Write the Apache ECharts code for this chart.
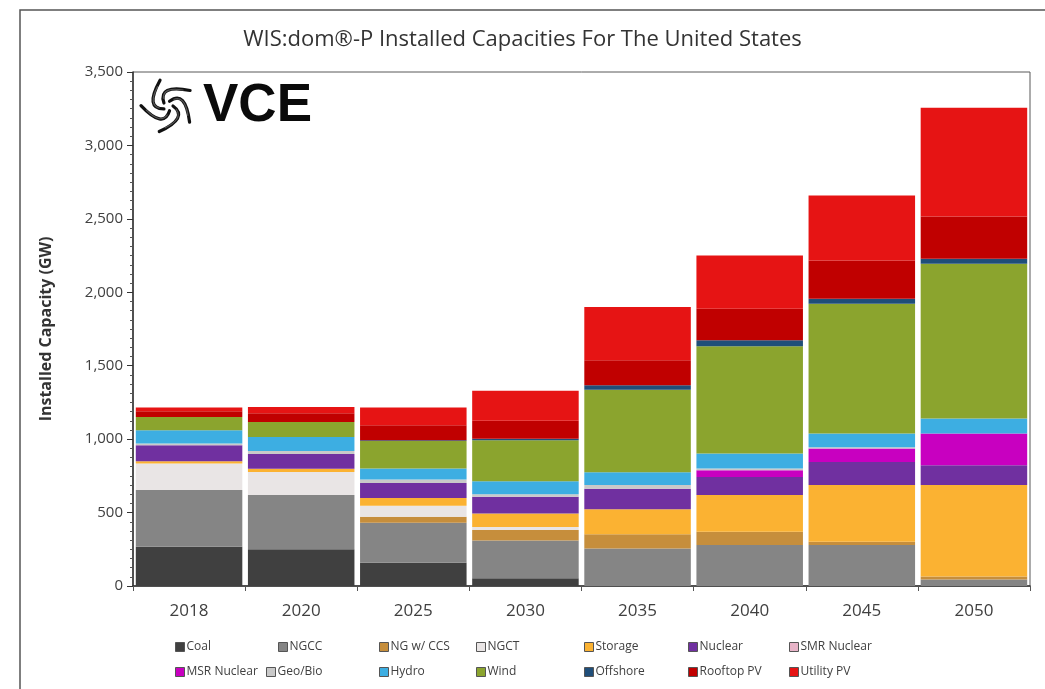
<!DOCTYPE html>
<html>
<head>
<meta charset="utf-8">
<script src="https://cdn.jsdelivr.net/npm/echarts@6/dist/echarts.min.js"></script>
<style>html,body{margin:0;padding:0;background:#fff}#c{width:1045px;height:689px}</style>
</head>
<body>
<div id="c"></div>
<script>
var categories = ['2018','2020','2025','2030','2035','2040','2045','2050'];
var coal      = [267, 250, 158,  52,   0,   0,   0,    0];
var ngcc      = [386, 369, 272, 257, 256, 279, 279,   45];
var ngCcs     = [  0,   0,  41,  72,  96,  90,  22,   20];
var ngct      = [181, 158,  76,  20,   0,   0,   0,    0];
var storage   = [ 16,  22,  53,  93, 170, 250, 386,  622];
var nuclear   = [109, 100, 102, 113, 140, 124, 158,  136];
var smrNuclear= [  0,   0,   0,   0,   0,   0,   0,    0];
var msrNuclear= [  0,   0,   0,   0,   0,  45,  91,  215];
var geoBio    = [ 11,  21,  24,  17,  25,  12,   8,    0];
var hydro     = [ 91,  95,  74,  90,  88, 102,  94,  102];
var wind      = [ 90, 102, 188, 279, 562, 730, 884, 1054];
var offshore  = [  0,   0,   5,  10,  30,  41,  34,   34];
var rooftopPV = [ 39,  59, 102, 122, 170, 215, 261,  288];
var utilityPV = [ 25,  43, 120, 204, 362, 363, 442,  741];
var yTicks = [0, 500, 1000, 1500, 2000, 2500, 3000, 3500];

var seriesDefs = [
  ['Coal', coal, '#404040'],
  ['NGCC', ngcc, '#858585'],
  ['NG w/ CCS', ngCcs, '#c68e3c'],
  ['NGCT', ngct, '#e9e5e5'],
  ['Storage', storage, '#fbb232'],
  ['Nuclear', nuclear, '#7030a0'],
  ['SMR Nuclear', smrNuclear, '#e8b4c8'],
  ['MSR Nuclear', msrNuclear, '#c800c0'],
  ['Geo/Bio', geoBio, '#c9c9c9'],
  ['Hydro', hydro, '#3daee2'],
  ['Wind', wind, '#8ba42e'],
  ['Offshore', offshore, '#1f4e79'],
  ['Rooftop PV', rooftopPV, '#c00000'],
  ['Utility PV', utilityPV, '#e61414']
];

var FONT = '"Open Sans"';
var legendPos = [
  [175,641],[278,641],[379,641],[476,641],[584,641],[688,641],[789,641],
  [175,666],[266,666],[379,666],[476,666],[584,666],[688,666],[789,666]
];
var legends = seriesDefs.map(function(d, i){
  return {
    data: [d[0]], left: legendPos[i][0], top: legendPos[i][1],
    itemWidth: 9, itemHeight: 9, itemGap: 0, padding: 0, icon: 'rect',
    itemStyle: {borderColor: '#555', borderWidth: 1},
    textStyle: {fontFamily: FONT, fontSize: 12, color: '#404040', padding: [0,0,0,-3]}
  };
});

var series = seriesDefs.map(function(d){
  return {
    name: d[0], type: 'bar', stack: 'total', data: d[1],
    barCategoryGap: '5%',
    itemStyle: {color: d[2]},
    emphasis: {disabled: true}
  };
});

// swirl logo arms
var swirl = [];
var cx = 168, cy = 106;
function pt(r, ang){ return [cx + r*Math.cos(ang), cy + r*Math.sin(ang)]; }
for (var k = 0; k < 5; k++) {
  var a = k * 72 * Math.PI / 180;
  var p1 = pt(5, a), p2 = pt(27, a + 1.9), c1 = pt(24, a + 0.5);
  swirl.push({type: 'bezierCurve', shape: {x1:p1[0], y1:p1[1], x2:p2[0], y2:p2[1], cpx1:c1[0], cpy1:c1[1]},
    style: {stroke: '#111', lineWidth: 3.2, fill: null, lineCap: 'round'}});
  var q1 = pt(9, a + 0.4), q2 = pt(22, a + 1.7), c2 = pt(20, a + 0.7);
  swirl.push({type: 'bezierCurve', shape: {x1:q1[0], y1:q1[1], x2:q2[0], y2:q2[1], cpx1:c2[0], cpy1:c2[1]},
    style: {stroke: '#555', lineWidth: 1.2, fill: null, lineCap: 'round'}});
}

var chart = echarts.init(document.getElementById('c'), null, {renderer: 'canvas'});
chart.setOption({
  animation: false,
  backgroundColor: '#fff',
  title: {
    text: 'WIS:dom®-P Installed Capacities For The United States',
    left: 'center', top: 24,
    textStyle: {fontFamily: FONT, fontSize: 22, fontWeight: 'normal', color: '#333'}
  },
  legend: legends,
  grid: {left: 133, right: 15, top: 72, bottom: 103, show: true, borderColor: '#595959', borderWidth: 1, containLabel: false},
  xAxis: {
    type: 'category', data: categories,
    axisLine: {lineStyle: {color: '#333', width: 1.5}},
    axisTick: {show: true, length: 5, lineStyle: {color: '#555'}},
    axisLabel: {fontFamily: FONT, fontSize: 17, color: '#404040', margin: 17}
  },
  yAxis: {
    type: 'value', min: yTicks[0], max: yTicks[yTicks.length-1], interval: 500,
    name: 'Installed Capacity (GW)', nameLocation: 'middle', nameGap: 79,
    nameTextStyle: {fontFamily: FONT, fontSize: 16, fontWeight: 'bold', color: '#333'},
    axisLine: {show: true, lineStyle: {color: '#333', width: 1.5}},
    axisTick: {show: true, length: 6, lineStyle: {color: '#333'}},
    minorTick: {show: true, splitNumber: 8, length: 3, lineStyle: {color: '#555'}},
    splitLine: {show: false},
    axisLabel: {fontFamily: FONT, fontSize: 15, color: '#404040', margin: 10,
      formatter: function(v){ return v.toLocaleString('en-US'); }}
  },
  graphic: [
    {type: 'rect', shape: {x: 20, y: 10, width: 1040, height: 700}, style: {fill: null, stroke: '#555', lineWidth: 1.5}, silent: true},
    {type: 'text', left: 203, top: 80, style: {text: 'VCE', font: 'bold 53px "Liberation Sans", Arial, sans-serif', fill: '#0a0a0a'}},
    {type: 'group', children: swirl}
  ],
  series: series
});
</script>
</body>
</html>
